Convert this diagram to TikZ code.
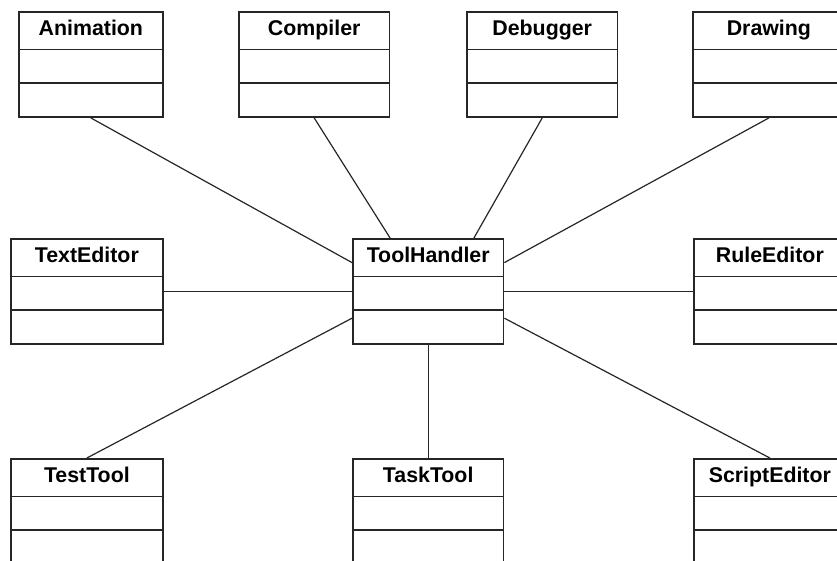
\documentclass[tikz,border=0pt]{standalone}
\usepackage{fontspec}
\setsansfont{Liberation Sans}
\usepackage{tikz}
\usetikzlibrary{shapes.multipart}
\usetikzlibrary{calc}
\tikzset{
  uml_c/.style = {rectangle split, rectangle split parts=3, draw=black!85,
    line width=1.3pt, inner xsep=0pt, inner ysep=0pt, anchor=north west,
    font=\sffamily\bfseries\fontsize{16}{19}\selectfont},% classe uml
  uml_l/.style = {draw=black!85, line width=0.9pt}% lien d'association
}
% titre + deux compartiments vides
\newcommand{\umlcls}[1]{\rule[-10pt]{0pt}{27pt}#1%
  \nodepart{two}\rule{0pt}{24pt}\nodepart{three}\rule{0pt}{24pt}}

\begin{document}
\begin{tikzpicture}[x=0.75pt,y=-0.75pt]
\useasboundingbox (0,0) rectangle (837,560);
\clip (0,0) rectangle (837,560);
\node [uml_c, minimum width=108pt] (anim)   at (18,11)   {\umlcls{Animation}};
\node [uml_c, minimum width=113pt] (comp)   at (238,11)  {\umlcls{Compiler}};
\node [uml_c, minimum width=113pt] (debug)  at (466,11)  {\umlcls{Debugger}};
\node [uml_c, minimum width=114pt] (drw)    at (692,11)  {\umlcls{Drawing}};
\node [uml_c, minimum width=114pt] (textE)  at (10,238)  {\umlcls{TextEditor}};
\node [uml_c, minimum width=113pt] (th)     at (352,238) {\umlcls{ToolHandler}};
\node [uml_c, minimum width=114pt] (ruleE)  at (693,238) {\umlcls{RuleEditor}};
\node [uml_c, minimum width=114pt] (test)   at (10,458)  {\umlcls{TestTool}};
\node [uml_c, minimum width=113pt] (task)   at (352,458) {\umlcls{TaskTool}};
\node [uml_c, minimum width=114pt] (script) at (693,458) {\umlcls{ScriptEditor}};

\draw [uml_l] (anim.south)  -- ($(th.north west)!0.23!(th.south west)$);
\draw [uml_l] (comp.south)  -- ($(th.north)!0.5!(th.north west)$);
\draw [uml_l] (debug.south) -- ($(th.north)!0.6!(th.north east)$);
\draw [uml_l] (drw.south)   -- ($(th.north east)!0.23!(th.south east)$);
\draw [uml_l] (textE.east)  -- (th.west);
\draw [uml_l] (th.east)     -- (ruleE.west);
\draw [uml_l] ($(th.north west)!0.75!(th.south west)$) -- (test.north);
\draw [uml_l] (th.south)    -- (task.north);
\draw [uml_l] ($(th.north east)!0.75!(th.south east)$) -- (script.north);
\end{tikzpicture}
\end{document}
